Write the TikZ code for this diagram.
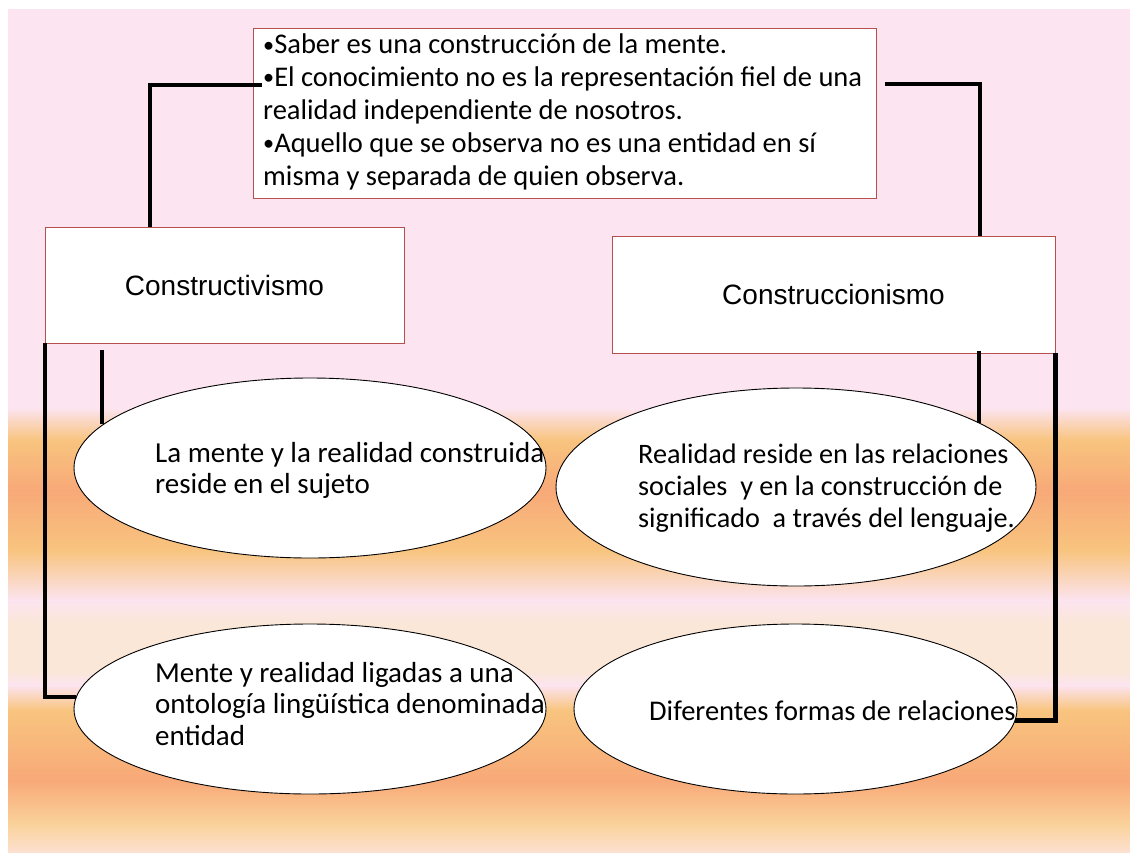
\documentclass[tikz,border=0pt]{standalone}
\usepackage{fontspec}
\usepackage{graphicx}
\setmainfont{Carlito}
\newfontfamily\arialf{Liberation Sans}
\usetikzlibrary{shapes.geometric}
\newcommand\mybul{\raisebox{0.06em}{\scalebox{0.78}{•}}}
\definecolor{pinkbg}{HTML}{FCE4F0}
\definecolor{yellowbg}{HTML}{F8C47E}
\definecolor{salmonbg}{HTML}{F8A978}
\definecolor{creambg}{HTML}{FBE7D7}
\definecolor{lightbg}{HTML}{FCE0D0}
\definecolor{ylightbg}{HTML}{FAD39C}
\definecolor{boxred}{HTML}{B5504E}
\begin{document}
\begin{tikzpicture}[x=1pt,y=-1pt,
  rbox/.style={draw=boxred, line width=0.8pt, fill=white, inner sep=0pt},
  oval/.style={ellipse, draw=black, line width=0.9pt, fill=white, inner sep=0pt},
  conn/.style={line width=4.2pt, draw=black},
  bodytext/.style={font=\fontsize{29}{31.5}\selectfont, align=left, inner sep=0pt, anchor=base west},
  titletext/.style={font=\arialf\fontsize{28}{32}\selectfont}]
\useasboundingbox (0,0) rectangle (1130,852);
% background
\fill[white] (0,0) rectangle (1130,852);
\fill[pinkbg] (8,9) rectangle (1130,408.5);
\shade[top color=pinkbg,bottom color=yellowbg] (8,408) rectangle (1130,440.5);
\shade[top color=yellowbg,bottom color=salmonbg] (8,440) rectangle (1130,490.5);
\shade[top color=salmonbg,bottom color=yellowbg] (8,490) rectangle (1130,550.5);
\shade[top color=yellowbg,bottom color=pinkbg] (8,550) rectangle (1130,600.5);
\shade[top color=pinkbg,bottom color=creambg] (8,600) rectangle (1130,625.5);
\fill[creambg] (8,625) rectangle (1130,670.5);
\shade[top color=creambg,bottom color=pinkbg] (8,670) rectangle (1130,685.5);
\shade[top color=pinkbg,bottom color=yellowbg] (8,685) rectangle (1130,710.5);
\shade[top color=yellowbg,bottom color=salmonbg] (8,710) rectangle (1130,780.5);
\shade[top color=salmonbg,bottom color=ylightbg] (8,780) rectangle (1130,825.5);
\shade[top color=ylightbg,bottom color=lightbg] (8,825) rectangle (1130,852);
% boxes
\node[rbox, minimum width=623pt, minimum height=170pt] (top) at (564.5,113) {};
\node[bodytext, font=\fontsize{28.5}{32.8}\selectfont] (toptext) at (263,185)
  {\mybul Saber es una construcción de la mente.\\
   \mybul El conocimiento no es la representación fiel de una\\
   realidad independiente de nosotros.\\
   \mybul Aquello que se observa no es una entidad en sí\\
   misma y separada de quien observa.};
\node[rbox, minimum width=359pt, minimum height=116pt, titletext] (cv) at (224.5,285) {Constructivismo};
\node[rbox, minimum width=443pt, minimum height=117pt, titletext] (cn) at (833.5,294.5) {Construccionismo};
% ellipses
\node[oval, minimum width=472pt, minimum height=180pt] (e1) at (310,468) {};
\node[oval, minimum width=480pt, minimum height=198pt] (e2) at (796,487) {};
\node[oval, minimum width=472pt, minimum height=170pt] (e3) at (310,709) {};
\node[oval, minimum width=443pt, minimum height=170pt] (e4) at (795.5,709) {};
\node[bodytext] (t1) at (155,493.5) {La mente y la realidad construida\\reside en el sujeto};
\node[bodytext, font=\fontsize{28.2}{32}\selectfont] (t2) at (638,527) {Realidad reside en las relaciones\\sociales\ \ y en la construcción de\\significado\ \ a través del lenguaje.};
\node[bodytext] (t3) at (155,745) {Mente y realidad ligadas a una\\ontología lingüística denominada\\entidad};
\node[bodytext, font=\fontsize{28.5}{31}\selectfont] (t4) at (649,720) {Diferentes formas de relaciones};
% connectors
\coordinate (l1) at (102,350);
\coordinate (r1) at (979,351);
\draw[conn] ([xshift=9pt]top.west |- 0,85) -| ([xshift=105pt]cv.north west);
\draw[conn] ([xshift=9pt]top.east |- 0,84) -| ([xshift=368pt]cn.north west);
\draw[conn] (cv.south west) |- (e3.177.5);
\draw[conn] (l1) -- (l1 |- e1.168.45);
\draw[conn] (r1) -- (r1 |- e2.19.3);
\draw[conn] (cn.south east) |- (e4.357.7);
\end{tikzpicture}
\end{document}
